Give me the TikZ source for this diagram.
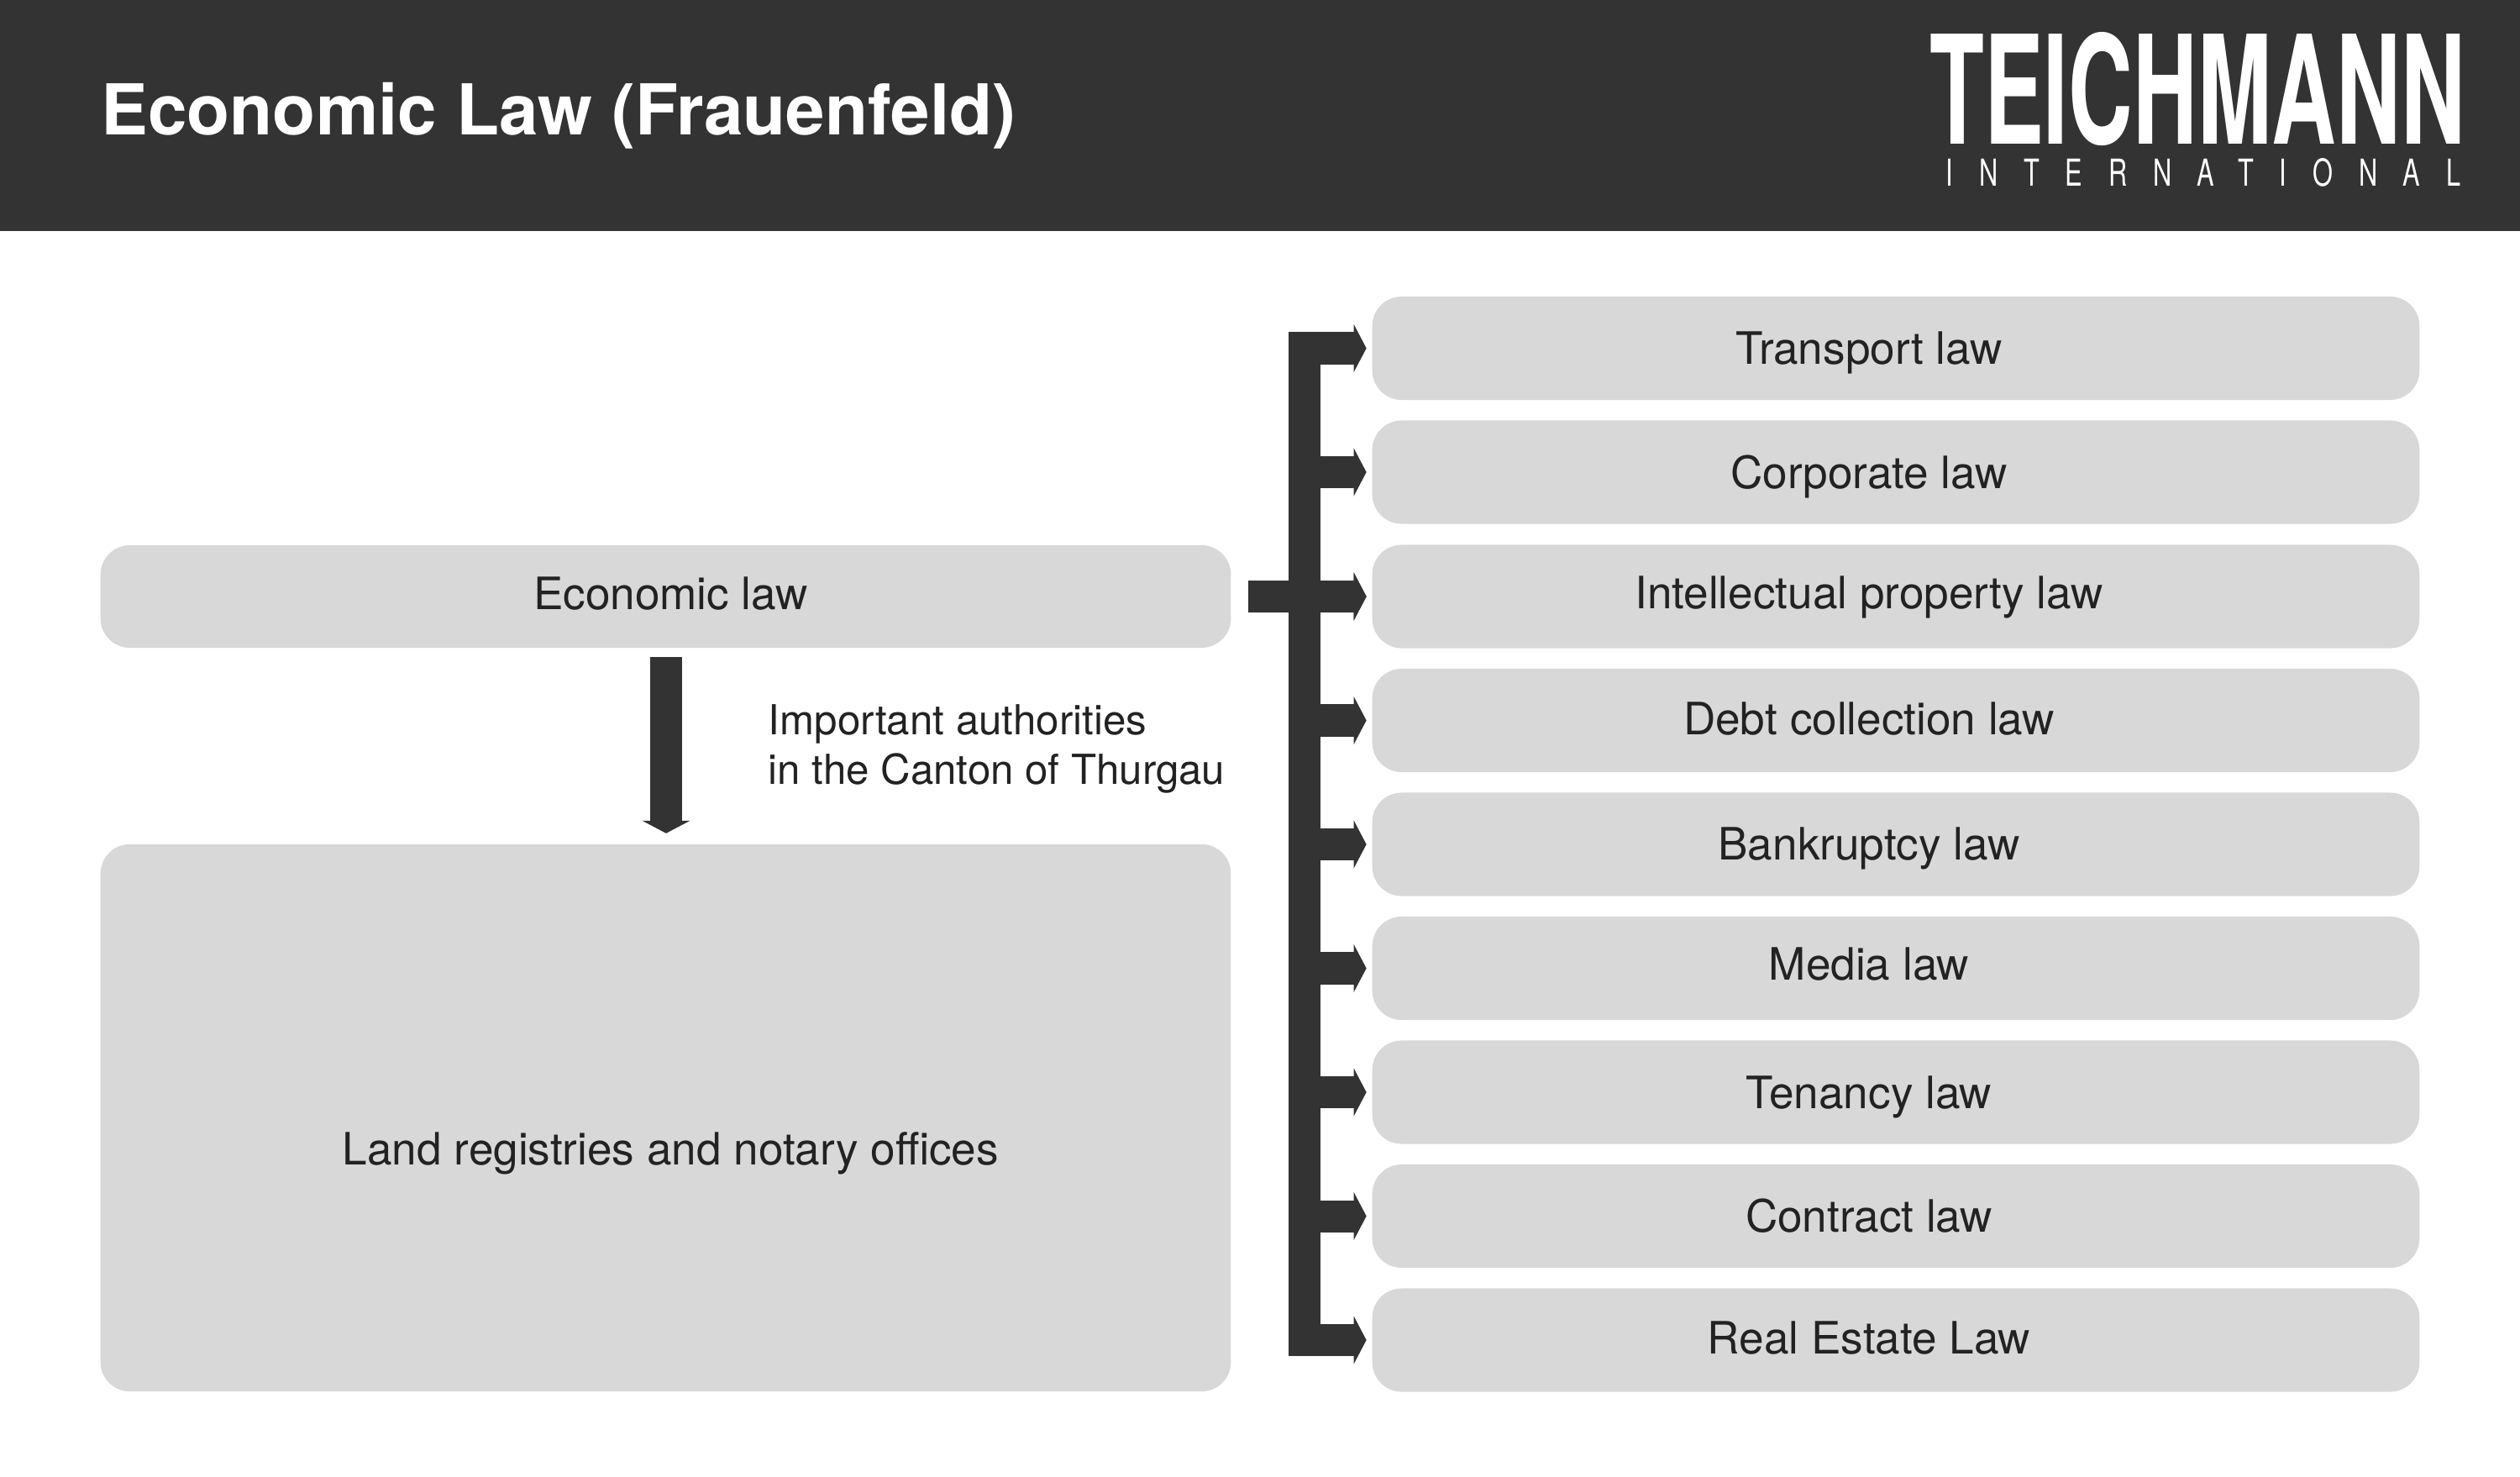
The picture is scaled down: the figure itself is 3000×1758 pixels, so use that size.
\documentclass[tikz,border=0pt]{standalone}
\usepackage{fontspec}
\usepackage{graphicx}
\setmainfont{TeX Gyre Heros}
\usetikzlibrary{arrows.meta}
\definecolor{band}{HTML}{333333}
\definecolor{plate}{HTML}{D8D8D8}
\definecolor{ink}{HTML}{222222}
\tikzset{
  plate/.style={draw=none, fill=plate, rounded corners=.35cm, inner sep=0pt, outer sep=0pt, text=ink, text height=0pt, text depth=0pt, font=\fontsize{15.1}{18}\selectfont},
  lawbox/.style={plate, minimum width=12.46cm, minimum height=1.23cm, execute at end node={\hspace{18.2pt}}},
  leftbox/.style={plate, minimum width=13.45cm, execute at begin node={\hspace*{3.4pt}}},
  bus/.style={draw=band, line width=.38cm, line cap=butt},
  busarrow/.style={bus, -{Triangle[length=.15cm, width=.57cm, line width=0pt]}}
}
\begin{document}
\begin{tikzpicture}[x=.01cm, y=-.01cm]
      \useasboundingbox (0,0) rectangle (3000,1758);

      \node (band) [fill=band, anchor=north west, minimum width=30cm, minimum height=2.75cm, inner sep=0pt, outer sep=0pt] at (0,0) {};

      \begin{scope}[every node/.style={text=white, inner sep=0pt}]
        \node (title) [anchor=west, font=\bfseries\fontsize{23.76}{28}\selectfont] at (120,138) {Economic Law (Frauenfeld)};
        \node (logo)  [anchor=center] at (2616,106.5) {\resizebox{6.37cm}{1.33cm}{\bfseries TEICHMANN}};
        \node (intl)  [anchor=center] at (2623,205) {\resizebox{6.12cm}{.33cm}{\addfontfeatures{LetterSpace=100}INTERNATIONAL}};
      \end{scope}

      \begin{scope}[every node/.style={lawbox}]
        \node (1) at (2257,414.5)  {\raisebox{-.192cm}{Transport law}};
        \node (2) at (2257,562)    {\raisebox{-.198cm}{Corporate law}};
        \node (3) at (2257,710)    {\raisebox{-.147cm}{Intellectual property law}};
        \node (4) at (2257,857.5)  {\raisebox{-.17cm}{Debt collection law}};
        \node (5) at (2257,1005)   {\raisebox{-.187cm}{Bankruptcy law}};
        \node (6) at (2257,1152.5) {\raisebox{-.136cm}{Media law}};
        \node (7) at (2257,1300)   {\raisebox{-.19cm}{Tenancy law}};
        \node (8) at (2257,1447.5) {\raisebox{-.19cm}{Contract law}};
        \node (9) at (2257,1595)   {\raisebox{-.16cm}{Real Estate Law}};
      \end{scope}

      \begin{scope}[every node/.style={leftbox}]
        \node (econ) [minimum height=1.22cm] at (792.5,710)  {\raisebox{-.15cm}{Economic law}};
        \node (land) [minimum height=6.51cm] at (792.5,1330.5) {\raisebox{-.555cm}{Land registries and notary offices}};
      \end{scope}

      \node (note) [anchor=west, align=left, inner sep=0pt, text=ink, font=\fontsize{14}{16.8}\selectfont] at (914,891) {Important authorities\\in the Canton of Thurgau};

      % bar of the bracket
      \coordinate (top) at (1553,396);
      \coordinate (bot) at (1553,1614);
      \draw[bus] (top) -- (bot);

      \begin{scope}[every edge/.style={busarrow, shorten >=.07cm}]
        \path (1534,414.5 |- 1) edge (1);
        \path (1534,562 |- 2) edge (2);
        \path (1534,710 |- 3) edge (3);
        \path (1534,857.5 |- 4) edge (4);
        \path (1534,1005 |- 5) edge (5);
        \path (1534,1152.5 |- 6) edge (6);
        \path (1534,1300 |- 7) edge (7);
        \path (1534,1447.5 |- 8) edge (8);
        \path (1534,1595 |- 9) edge (9);
        \path (econ) edge [shorten <=.21cm] (3);
        \path (econ.south -| 793,0) edge [shorten <=.11cm, shorten >=.13cm] (land.north -| 793,0);
      \end{scope}

    \end{tikzpicture}
\end{document}
